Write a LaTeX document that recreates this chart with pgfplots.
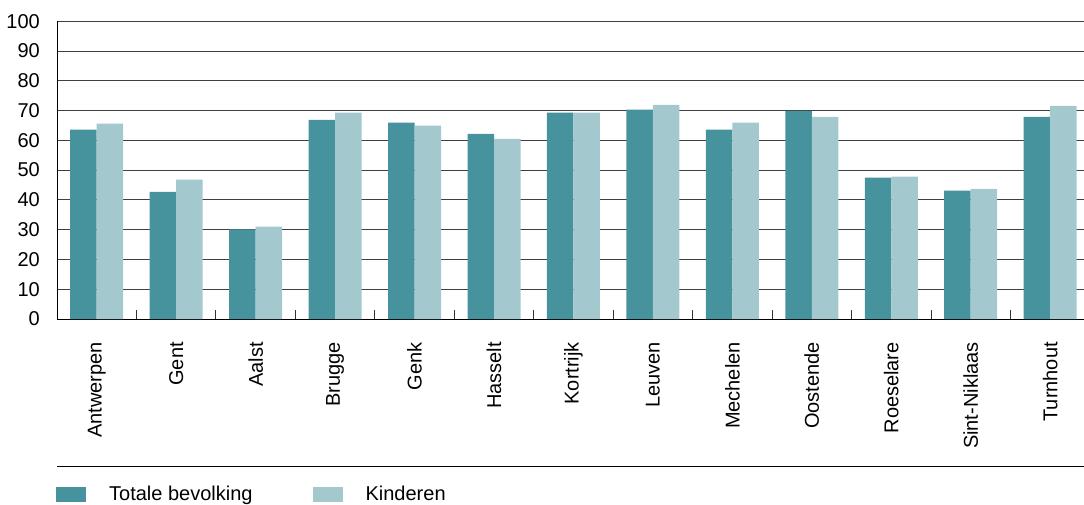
\documentclass[border=0pt]{standalone}
\usepackage{pgfplots}
\pgfplotsset{compat=1.18}
\usepackage{fontspec}
\setmainfont{Liberation Sans}
\definecolor{darkteal}{HTML}{46929D}
\definecolor{lightteal}{HTML}{A3C9CE}
\begin{document}
\begin{tikzpicture}
\begin{axis}[
  at={(57bp,186bp)}, anchor=south west,
  scale only axis, width=1032.9bp, height=297.8bp,
  xmin=-0.5, xmax=12.5, ymin=0, ymax=100,
  ybar=0pt, bar width=26.5bp,
  axis x line=bottom, axis y line=left,
  axis line style={-, black, line width=0.9bp},
  xtick={0,...,12},
  xticklabels={Antwerpen,Gent,Aalst,Brugge,Genk,Hasselt,Kortrijk,Leuven,Mechelen,Oostende,Roeselare,Sint-Niklaas,Turnhout},
  major x tick style={draw=none},
  minor xtick={0.5,1.5,...,11.5},
  minor tick length=9bp, tick align=inside,
  minor x tick style={black!80, line width=0.9bp},
  xticklabel style={rotate=90, anchor=east, inner sep=0pt},
  xticklabel shift=23bp,
  ytick={0,10,...,100},
  major y tick style={draw=none},
  yticklabel style={anchor=east, inner sep=0pt},
  yticklabel shift=17bp,
  ymajorgrids, grid style={black!75, line width=0.9bp},
  tick label style={font=\fontsize{20bp}{24bp}\selectfont},
  /pgf/number format/assume math mode=true,
  clip=false,
  legend style={at={(-0.001,-0.589)}, anchor=west, draw=none, inner sep=0pt,
    font=\fontsize{20bp}{24bp}\selectfont, legend columns=2,
    column sep=23bp, /tikz/every even column/.append style={column sep=60bp},
    nodes={inner sep=0pt}},
  legend cell align=left,
]
\addplot[fill=darkteal, draw=none, legend image code/.code={\fill[darkteal] (0bp,-7.5bp) rectangle (30bp,7.5bp);}] coordinates {
(0,63.6) (1,42.7) (2,30.1) (3,66.9) (4,65.9) (5,62.2) (6,69.3) (7,70.3) (8,63.6) (9,69.9) (10,47.5) (11,43.1) (12,67.9)};
\addplot[fill=lightteal, draw=none, legend image code/.code={\fill[lightteal] (0bp,-7.5bp) rectangle (30bp,7.5bp);}] coordinates {
(0,65.6) (1,46.8) (2,31.0) (3,69.3) (4,64.9) (5,60.5) (6,69.3) (7,71.9) (8,65.9) (9,67.9) (10,47.8) (11,43.7) (12,71.6)};
\legend{Totale bevolking, Kinderen}
\draw[black, line width=0.9bp] (axis description cs:0,-0.496) -- (axis description cs:1,-0.496);
\end{axis}
\pgfresetboundingbox
\useasboundingbox (0,0) rectangle (1084bp,505bp);
\end{tikzpicture}
\end{document}
